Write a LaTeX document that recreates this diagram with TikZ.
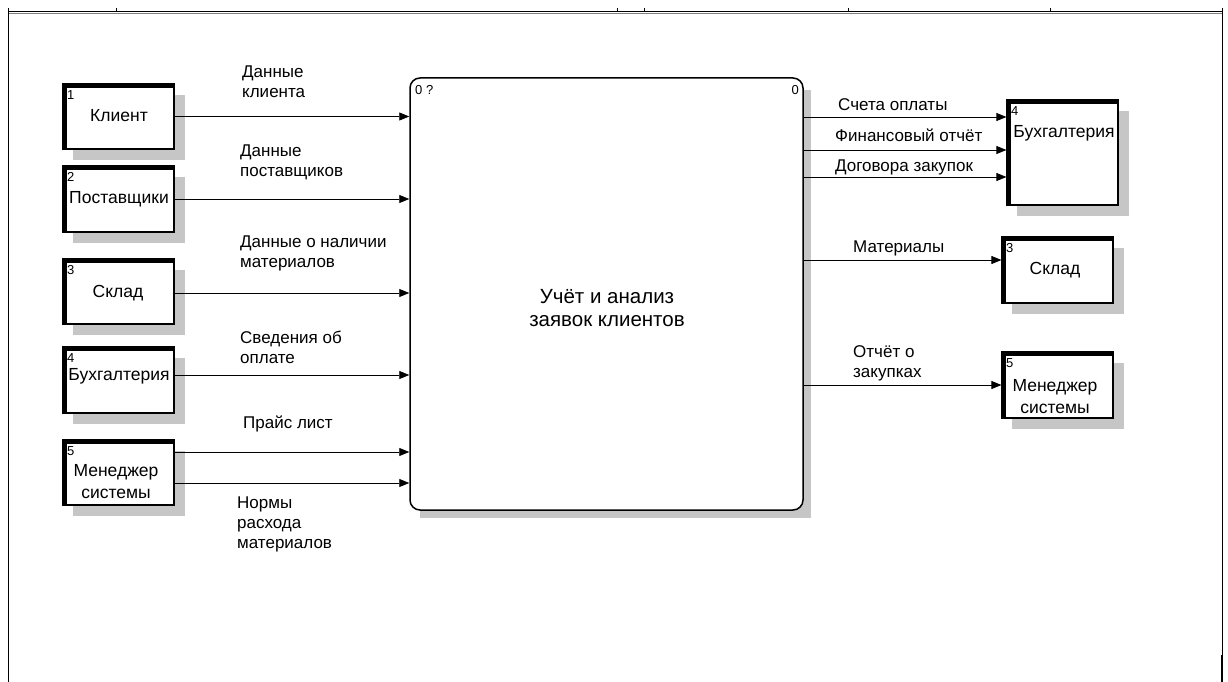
\documentclass[tikz,border=0pt]{standalone}
\usepackage{fontspec}
\setmainfont{Liberation Sans}
\usetikzlibrary{patterns,arrows.meta,calc}
\begin{document}
\begin{tikzpicture}[x=1pt,y=-1pt,
  box/.style={draw,line width=1.2pt,fill=white,inner sep=0pt},
  txt/.style={align=center,font=\fontsize{17.5}{22}\selectfont,inner sep=0pt},
  lbl/.style={align=left,anchor=west,font=\fontsize{17}{20}\selectfont,inner sep=0pt},
  num/.style={font=\fontsize{13}{13}\selectfont,inner sep=0pt,anchor=north west},
  arr/.style={line width=0.8pt,-{Triangle[length=10pt,width=8pt]}},
  shade/.style={fill=gray!45}]
\useasboundingbox (0,0) rectangle (1228,682);
% frame
\draw[gray,line width=1pt] (8,14) -- (1222,14);
\draw[line width=1pt] (8,12) -- (1222,12);
\foreach \x in {8,116,617,644,848,1050,1222} \draw[line width=0.8pt] (\x,8) -- (\x,12);
\draw[line width=0.8pt] (8,12) -- (8,682);
\draw[line width=0.8pt] (1222,12) -- (1222,682);
\draw[line width=2pt] (1222,655) -- (1222,682);

% main box
\fill[shade] (420,90) rectangle (811,518);
\node[draw,line width=1.5pt,fill=white,rounded corners=10pt,minimum width=393pt,minimum height=432pt,inner sep=0pt] (main) at (606.5,294) {};
\node[num] (mn1) at (415,85) {0 ?};
\node[num,anchor=north east] (mn2) at (799,85) {0};
\node[txt,font=\fontsize{20.5}{23}\selectfont] (mt) at (607,308) {Учёт и анализ\\заявок клиентов};

% left boxes
\foreach \nm/\ya/\yb/\n in {k/84/149/1,p/166/232/2,s/259/324/3,b/347/413/4,m/440/505/5}{
  \fill[shade] (73,\ya+11) rectangle (185,\yb+11);
  \node[box,minimum width=111pt,minimum height={(\yb-\ya)*1pt}] (\nm) at (118.5,{(\ya+\yb)/2}) {};
  \draw[line width=4.5pt] ([xshift=2.25pt]\nm.south west) -- ([xshift=2.25pt,yshift=-2.25pt]\nm.north west) -- ([yshift=-2.25pt]\nm.north east);
  \node[num] (\nm n) at ([xshift=4.5pt,yshift=-7pt]\nm.north west) {\n};
}
\node[txt] (kt) at (119,116) {Клиент};
\node[txt] (pt) at (119,199) {Поставщики};
\node[txt] (st) at (118,293) {Склад};
\node[txt] (bt) at (119,376) {Бухгалтерия};
\node[txt] (mt1) at (116,482) {Менеджер\\системы};

% right boxes
\foreach \nm/\xa/\ya/\xb/\yb/\n in {rb/1007/100/1118/205/4,rs/1002/237/1113/303/3,rm/1002/352/1113/418/5}{
  \fill[shade] (\xa+10,\ya+11) rectangle (\xb+11,\yb+11);
  \node[box,minimum width={(\xb-\xa)*1pt},minimum height={(\yb-\ya)*1pt}] (\nm) at ({(\xa+\xb)/2},{(\ya+\yb)/2}) {};
  \draw[line width=4.5pt] ([xshift=2.25pt]\nm.south west) -- ([xshift=2.25pt,yshift=-2.25pt]\nm.north west) -- ([yshift=-2.25pt]\nm.north east);
  \node[num] (\nm n) at ([xshift=4.5pt,yshift=-7pt]\nm.north west) {\n};
}
\node[txt] (rbt) at (1064,133) {Бухгалтерия};
\node[txt] (rst) at (1055,270) {Склад};
\node[txt] (rmt) at (1055,397) {Менеджер\\системы};

% left connectors
\draw[arr] (k.east) -- (k.east -| main.west);
\draw[arr] (p.east) -- (p.east -| main.west);
\draw[arr] ([yshift=-1.5pt]s.east) -- ([yshift=-1.5pt]s.east -| main.west);
\draw[arr] ([yshift=5pt]b.east) -- ([yshift=5pt]b.east -| main.west);
\draw[arr] ([yshift=20.5pt]m.east) -- ([yshift=20.5pt]m.east -| main.west);
\draw[arr] ([yshift=-10.5pt]m.east) -- ([yshift=-10.5pt]m.east -| main.west);

% right connectors
\draw[arr] ([yshift=35.5pt]rb.west -| main.east) -- ([yshift=35.5pt]rb.west);
\draw[arr] ([yshift=2.5pt]rb.west -| main.east) -- ([yshift=2.5pt]rb.west);
\draw[arr] ([yshift=-24.5pt]rb.west -| main.east) -- ([yshift=-24.5pt]rb.west);
\draw[arr] ([yshift=10pt]rs.west -| main.east) -- ([yshift=10pt]rs.west);
\draw[arr] (rm.west -| main.east) -- (rm.west);

% labels
\node[lbl] (l1) at (242,82) {Данные\\клиента};
\node[lbl] (l2) at (240,162) {Данные\\поставщиков};
\node[lbl] (l3) at (240,253) {Данные о наличии\\материалов};
\node[lbl] (l4) at (240,347) {Сведения об\\оплате};
\node[lbl] (l5) at (243,424) {Прайс лист};
\node[lbl] (l6) at (237,524) {Нормы\\расхода\\материалов};
\node[lbl] (r1) at (838,105) {Счета оплаты};
\node[lbl] (r2) at (835,135) {Финансовый отчёт};
\node[lbl] (r3) at (835,167) {Договора закупок};
\node[lbl] (r4) at (853,248) {Материалы};
\node[lbl] (r5) at (853,363) {Отчёт о\\закупках};
\end{tikzpicture}
\end{document}
